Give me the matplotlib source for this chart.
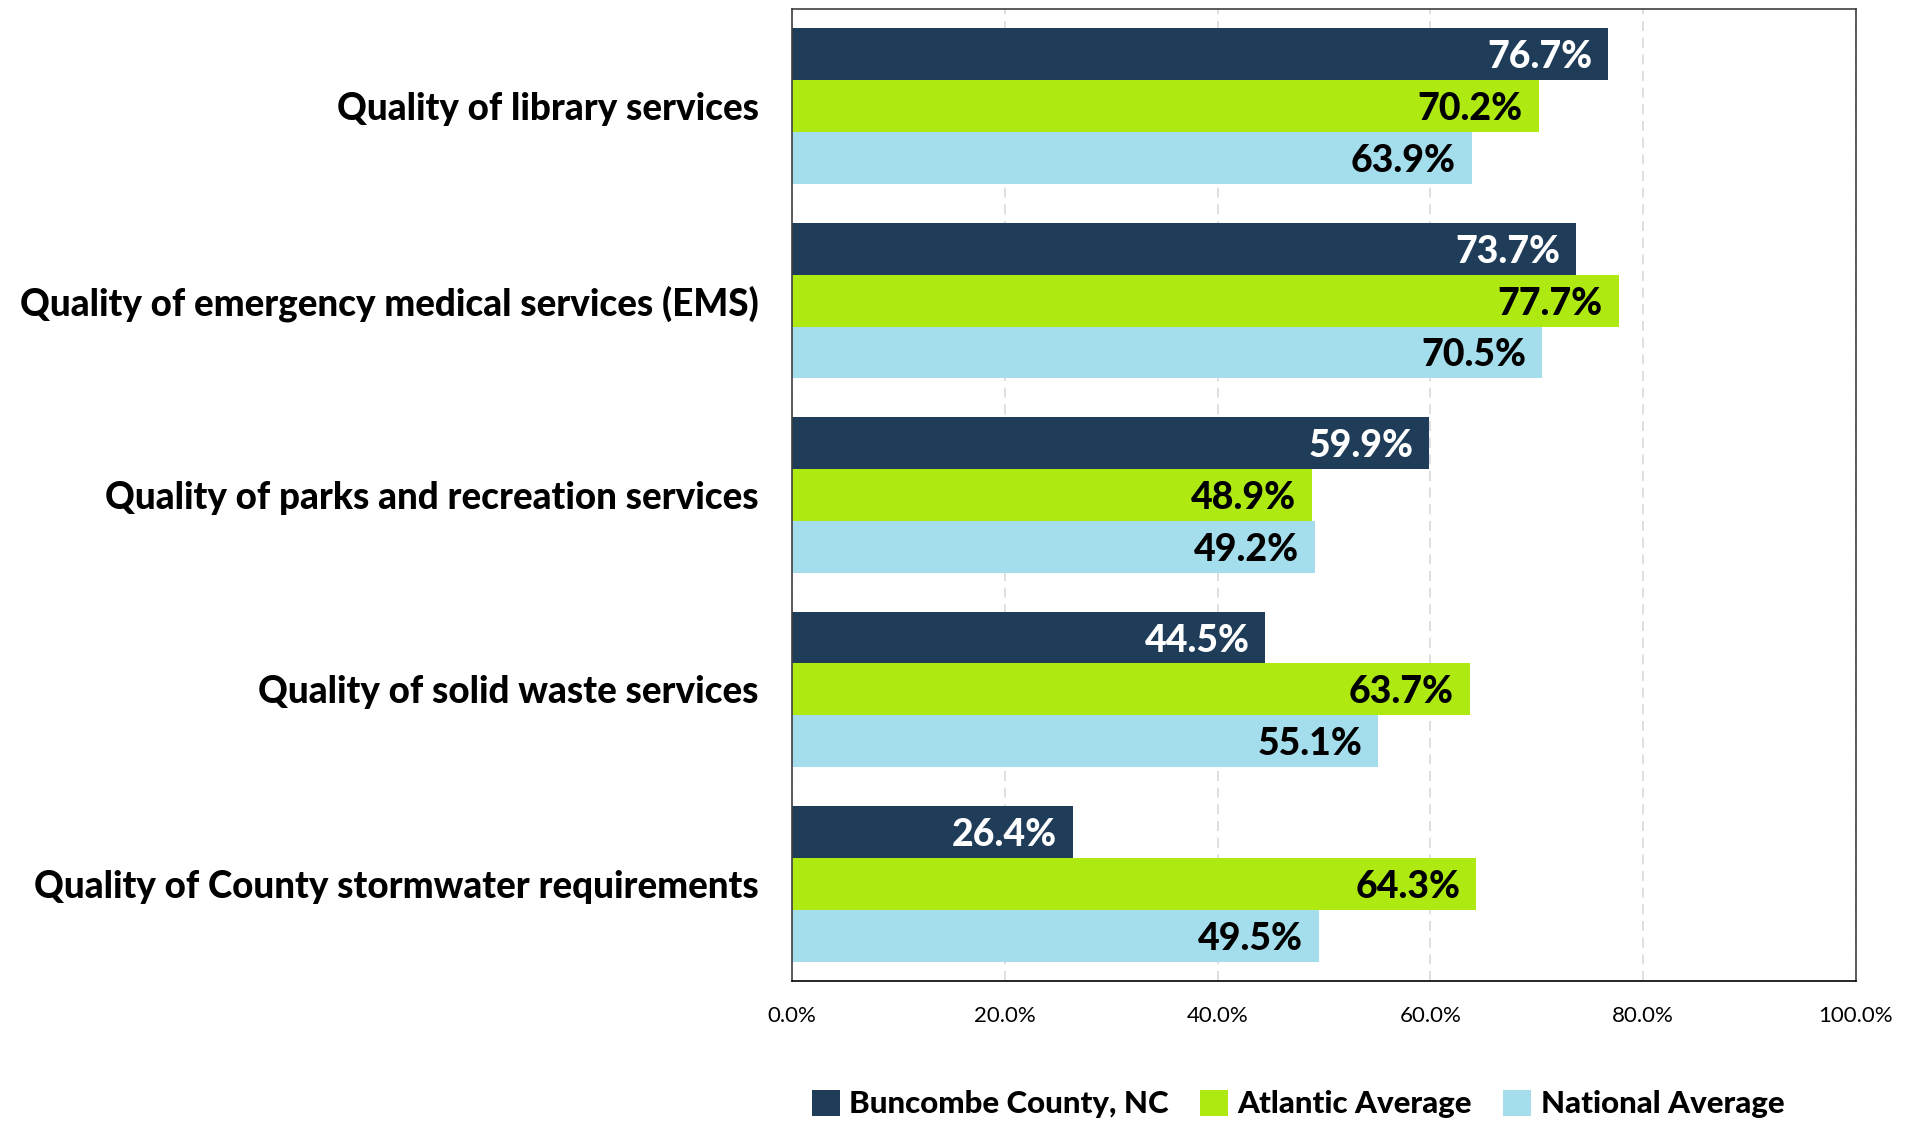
import matplotlib
matplotlib.use("Agg")
import matplotlib.pyplot as plt
import numpy as np

categories = [
    "Quality of library services",
    "Quality of emergency medical services (EMS)",
    "Quality of parks and recreation services",
    "Quality of solid waste services",
    "Quality of County stormwater requirements",
]
series_names = ["Buncombe County, NC", "Atlantic Average", "National Average"]
buncombe = [76.7, 73.7, 59.9, 44.5, 26.4]
atlantic = [70.2, 77.7, 48.9, 63.7, 64.3]
national = [63.9, 70.5, 49.2, 55.1, 49.5]
x_ticks = [0, 20, 40, 60, 80, 100]

colors = ["#1F3D59", "#AEEA12", "#A4DDEB"]
label_colors = ["white", "black", "black"]

plt.rcParams["font.family"] = ["Lato", "DejaVu Sans"]

fig = plt.figure(figsize=(19.19, 11.21), dpi=100)
ax = fig.add_axes([792 / 1919, 1 - 981 / 1121, (1856 - 792) / 1919, (981 - 9) / 1121])

n = len(categories)
y = np.arange(n)
h = 0.8 / 3
for i, vals in enumerate([buncombe, atlantic, national]):
    pos = y - h + i * h
    bars = ax.barh(pos, vals, height=h, color=colors[i], label=series_names[i], zorder=2)
    for b, v in zip(bars, vals):
        ax.text(v - 1.5, b.get_y() + h / 2, f"{v:.1f}%", ha="right", va="center_baseline",
                color=label_colors[i], fontsize=27, fontweight=900, zorder=3)

ax.set_ylim(n - 0.5, -0.5)
ax.set_xlim(0, 100)
ax.set_yticks(y)
ax.set_yticklabels(categories, fontsize=26.5, fontweight=900)
ax.tick_params(axis="y", length=0, pad=24)
ax.set_xticks(x_ticks)
ax.set_xticklabels([f"{t:.1f}%" for t in x_ticks], fontsize=16)
ax.tick_params(axis="x", length=0, pad=18)
ax.xaxis.grid(True, color="#D9D9D9", linestyle=(0, (6, 4)), linewidth=1.2, zorder=0)
for s in ["left", "top", "right"]:
    ax.spines[s].set_color("#404040")
    ax.spines[s].set_linewidth(1.2)
ax.spines["bottom"].set_color("black")
ax.spines["bottom"].set_linewidth(1.2)

leg = fig.legend(loc="center", bbox_to_anchor=(1298 / 1919, 1 - 1104 / 1121), ncol=3,
                 frameon=False, prop={"size": 22.5, "weight": 900},
                 handlelength=0.9, handleheight=0.9, handletextpad=0.3, columnspacing=1.0)

fig.savefig("out.png", dpi=100)
